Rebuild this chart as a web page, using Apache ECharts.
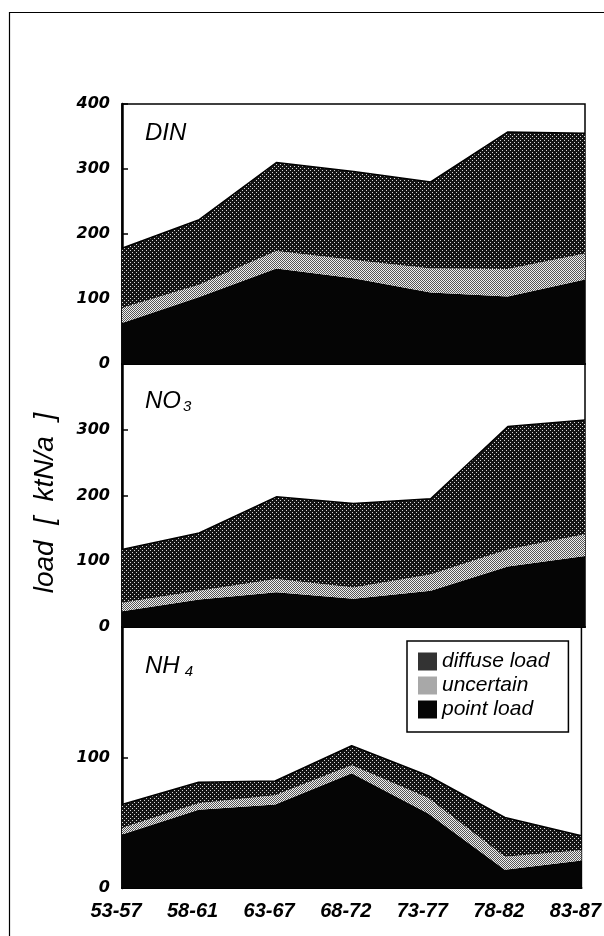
<!DOCTYPE html>
<html>
<head>
<meta charset="utf-8">
<script src="https://cdn.jsdelivr.net/npm/echarts@6/dist/echarts.min.js"></script>
<style>
html,body{margin:0;padding:0;background:#fff;}
#chart{width:604px;height:936px;}
</style>
</head>
<body>
<div id="chart"></div>
<script>
// ---- data (ktN/a) ----
const categories = ['53-57','58-61','63-67','68-72','73-77','78-82','83-87'];
const dinPoint     = [63,103,147,132,110,104,130];
const dinUncertain = [23,19,27,28,37,42,40];
const dinDiffuse   = [92,100,136,136,133,211,185];
const no3Point     = [24,42,53,43,55,92,108];
const no3Uncertain = [13,13,20,17,25,26,33];
const no3Diffuse   = [81,88,125,128,115,187,174];
const nh4Point     = [41,60,64,88,57,14,21];
const nh4Uncertain = [5,5,7,6,12,10,8];
const nh4Diffuse   = [18,16,11,15,17,30,11];
const panelMax     = [400,400,200];
const tickStep     = 100;
const seriesNames  = ['point load','uncertain','diffuse load'];

// ---- styles ----
function makePattern(bg, fg, pts, size){
  const c = document.createElement('canvas');
  c.width = size; c.height = size;
  const ctx = c.getContext('2d');
  ctx.fillStyle = bg; ctx.fillRect(0,0,size,size);
  ctx.fillStyle = fg;
  pts.forEach(p => ctx.fillRect(p[0],p[1],1,1));
  return {image:c, repeat:'repeat'};
}
const diffusePat = makePattern('#141414','#d8d8d8',[[0,0],[2,2]],4);
const uncertainPat = makePattern('#efefef','#555555',[[0,0],[1,1]],2);
const fills = [{fill:'#050505', legend:'#050505'},{fill:uncertainPat, legend:'#a8a8a8'},{fill:diffusePat, legend:'#333333'}];

const FONT = '"Liberation Sans", Arial, sans-serif';
const panels = [
  {data:[dinPoint,dinUncertain,dinDiffuse], top:104, height:260},
  {data:[no3Point,no3Uncertain,no3Diffuse], top:364, height:263},
  {data:[nh4Point,nh4Uncertain,nh4Diffuse], top:627, height:261}
];

const grids=[], xAxes=[], yAxes=[], series=[];
panels.forEach((p,i)=>{
  grids.push({left:122, right:19, top:p.top, height:p.height, show:true, borderColor:'#000', borderWidth:1.5, backgroundColor:'transparent'});
  const last = i===panels.length-1;
  xAxes.push({
    type:'category', gridIndex:i, data:categories, boundaryGap:false,
    axisLine:{show:true, lineStyle:{color:'#000', width:2}},
    axisTick:{show:false},
    axisLabel:{show:last, color:'#000', fontFamily:FONT, fontSize:20, fontStyle:'italic', fontWeight:'bold', margin:13, padding:[0,12,0,0]},
    splitLine:{show:false}
  });
  const mx = panelMax[i];
  yAxes.push({
    type:'value', gridIndex:i, min:0, max:mx, interval:tickStep,
    axisLine:{show:true, lineStyle:{color:'#000', width:2.5}},
    axisTick:{show:true, inside:true, length:6, lineStyle:{color:'#000', width:1.5}},
    axisLabel:{color:'#000', fontFamily:'"DejaVu Sans", sans-serif', fontSize:16, fontStyle:'italic', fontWeight:'bold', margin:12,
      formatter: v => (i>0 && v===mx) ? '' : String(v)},
    splitLine:{show:false}
  });
  p.data.forEach((arr,k)=>{
    series.push({
      type:'line', name:seriesNames[k], xAxisIndex:i, yAxisIndex:i, stack:'s'+i,
      data:arr, showSymbol:false, symbol:'none',
      color:fills[k].legend,
      lineStyle:{color:'#000', width: k===2 ? 1.5 : 0},
      areaStyle:{color:fills[k].fill, opacity:1},
      z: 2
    });
  });
});

const chart = echarts.init(document.getElementById('chart'), null, {renderer:'canvas'});
chart.setOption({
  backgroundColor:'#fff',
  animation:false,
  grid:grids, xAxis:xAxes, yAxis:yAxes, series:series,
  legend:{
    data:['diffuse load','uncertain','point load'],
    orient:'vertical', left:407, top:641,
    icon:'rect', itemWidth:19, itemHeight:18, itemGap:3,
    backgroundColor:'#fff', borderColor:'#000', borderWidth:1.5,
    padding:[10,19,12,11],
    selectedMode:false,
    textStyle:{color:'#000', fontFamily:FONT, fontSize:21, fontStyle:'italic', lineHeight:18}
  },
  graphic:[
    {type:'line', shape:{x1:9.5,y1:12,x2:9.5,y2:936}, style:{stroke:'#000', lineWidth:1.2}, silent:true},
    {type:'line', shape:{x1:9,y1:12.5,x2:604,y2:12.5}, style:{stroke:'#000', lineWidth:1.2}, silent:true},
    {type:'text', left:145, top:121, style:{text:'DIN', fill:'#000', font:'italic 24px '+FONT}},
    {type:'text', left:145, top:389, style:{text:'{m|NO}{s|3}', fill:'#000',
      rich:{m:{fontFamily:FONT, fontSize:24, fontStyle:'italic', fill:'#000'}, s:{fontFamily:FONT, fontSize:15, fontStyle:'italic', fill:'#000', padding:[12,0,0,2]}}}},
    {type:'text', left:145, top:654, style:{text:'{m|NH}{s|4}', fill:'#000',
      rich:{m:{fontFamily:FONT, fontSize:24, fontStyle:'italic', fill:'#000'}, s:{fontFamily:FONT, fontSize:15, fontStyle:'italic', fill:'#000', padding:[12,0,0,5]}}}},
    {type:'text', x:45, y:503, rotation:Math.PI/2, style:{text:'load  [  ktN/a  ]', fill:'#000', font:'italic 28px '+FONT, align:'center', verticalAlign:'middle'}}
  ]
});
</script>
</body>
</html>
